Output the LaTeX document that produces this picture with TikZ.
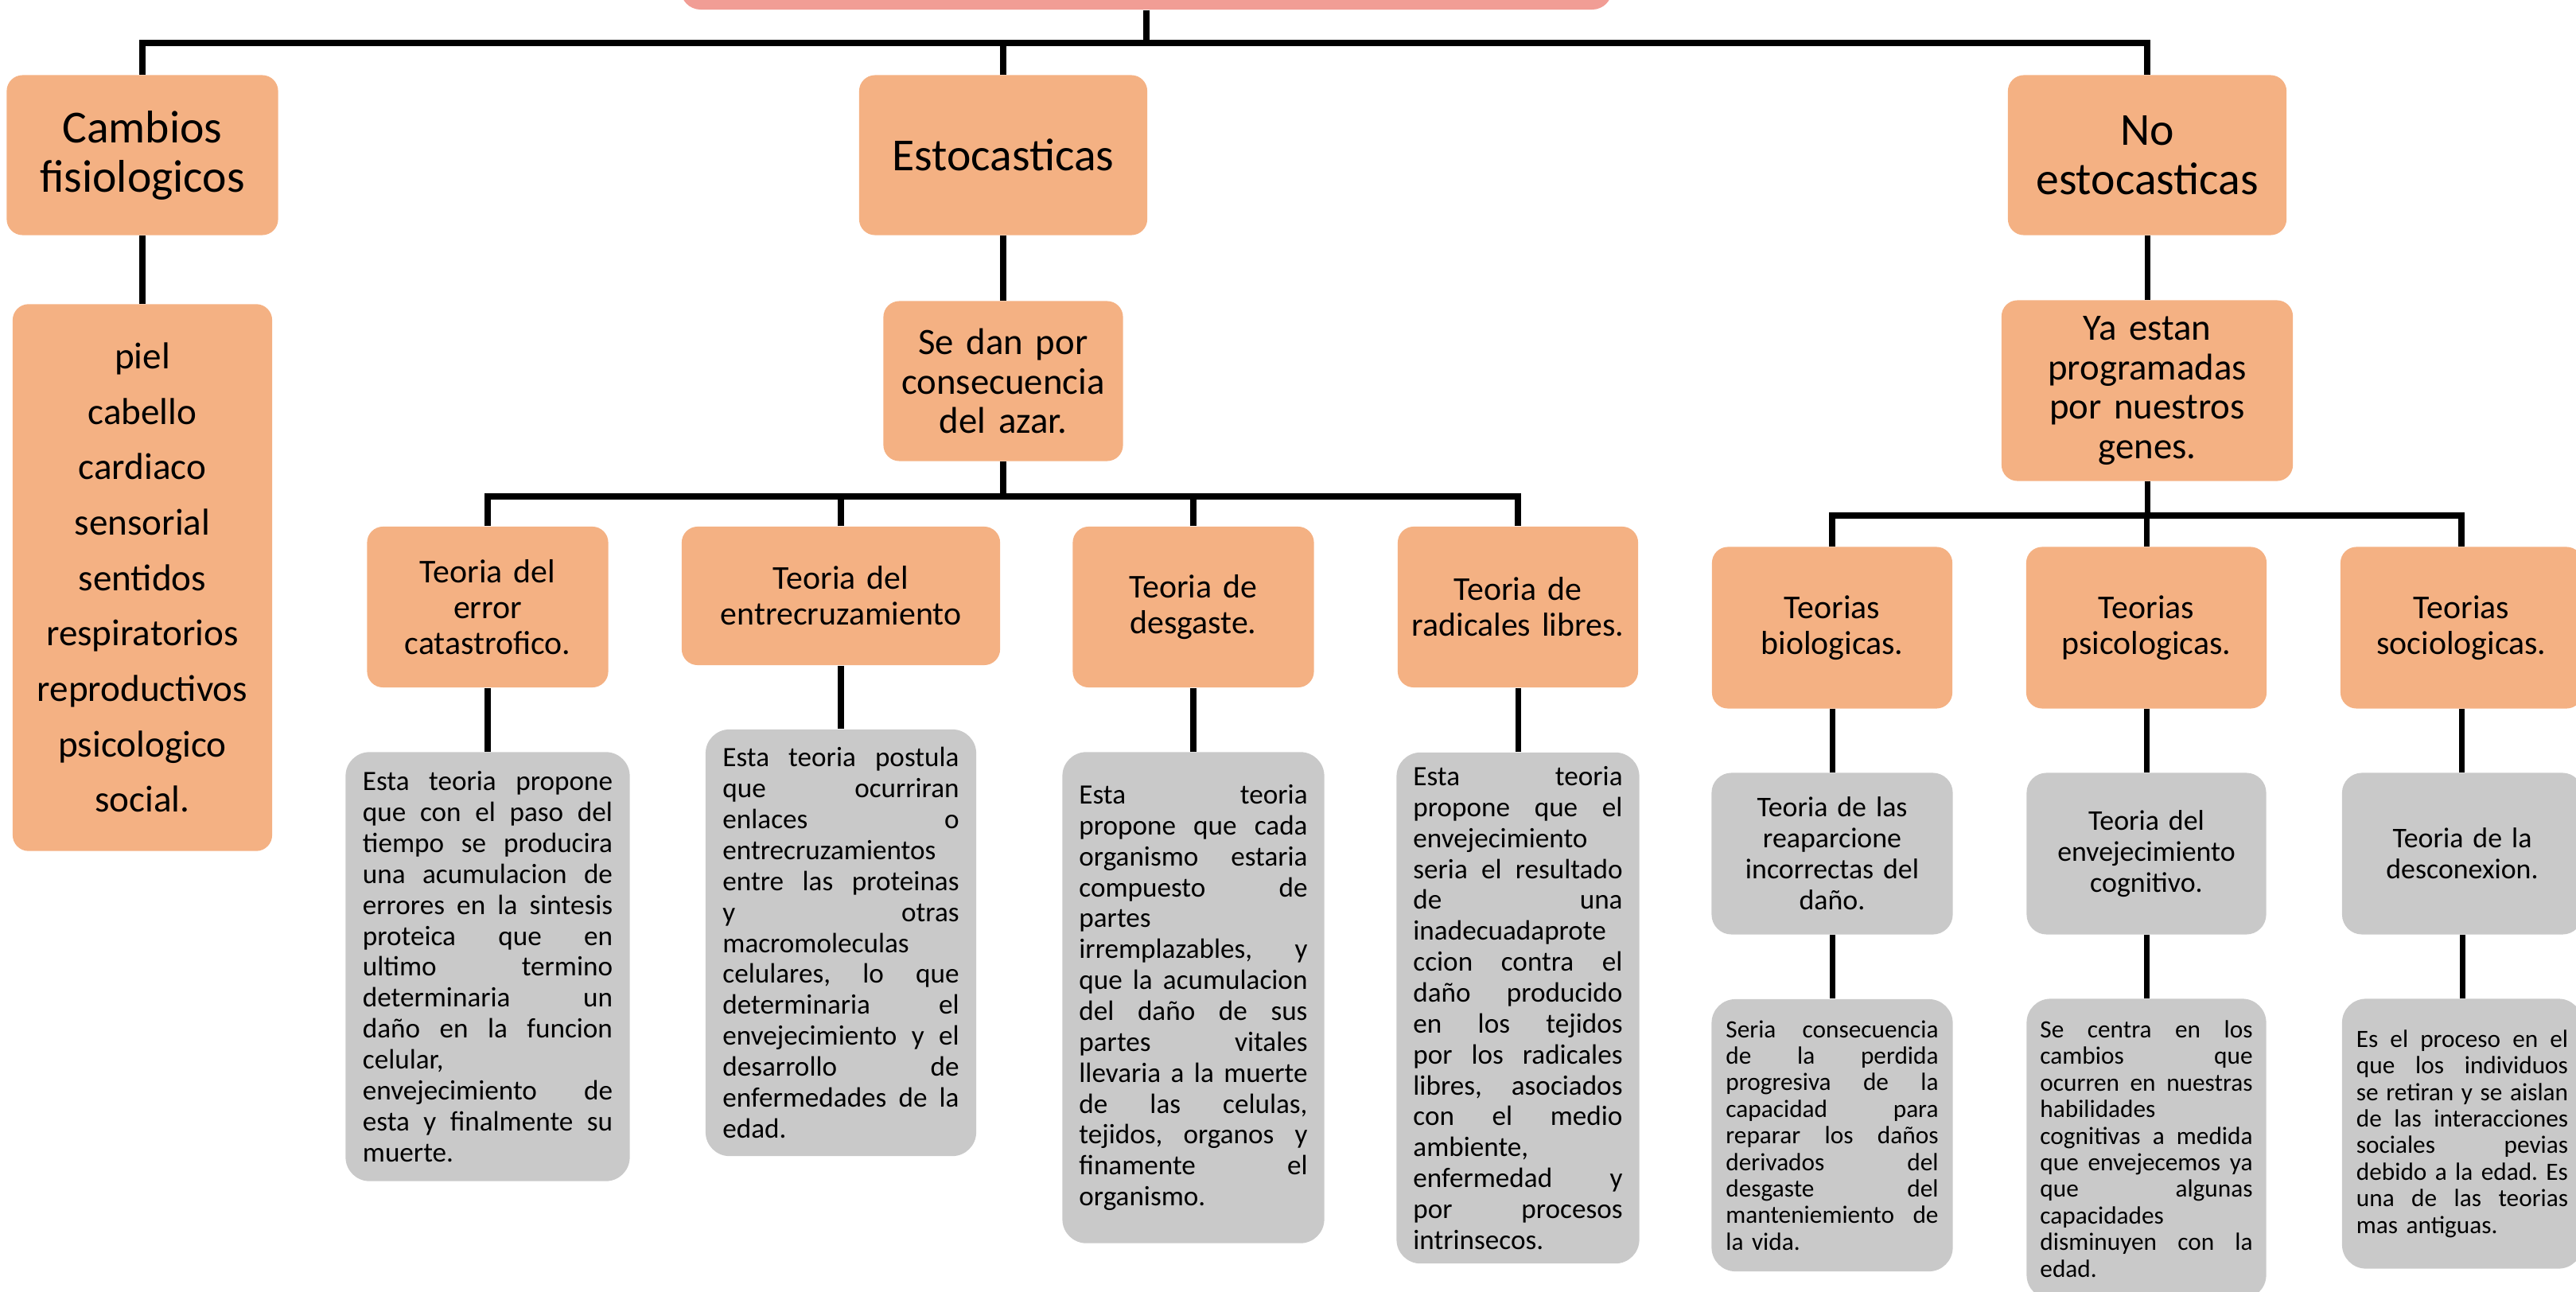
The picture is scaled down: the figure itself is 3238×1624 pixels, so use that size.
\documentclass[tikz,border=0pt]{standalone}
\usepackage{fontspec}
\setmainfont{Carlito}
\usepackage{tikz}
\usetikzlibrary{positioning}

\definecolor{pinkbox}{HTML}{F19D95}
\definecolor{orangebox}{HTML}{F4B183}
\definecolor{greybox}{HTML}{C9C9C9}

% one justified line of a grey box
\newlength{\boxtw}
\newcommand{\fillline}[1]{\leavevmode\hbox to \boxtw{\spaceskip=0.25em plus 1fil\relax #1}\\}
\frenchspacing

\begin{document}
\begin{tikzpicture}[x=0.01cm, y=-0.01cm,
  hdrbox/.style={fill=orangebox, rounded corners=0.2cm, inner sep=0pt, align=center},
  lvlone/.style={hdrbox, font=\fontsize{16.4}{17.6}\selectfont},
  lvltwo/.style={hdrbox, font=\fontsize{13.3}{14.2}\selectfont},
  theory/.style={hdrbox, font=\fontsize{11.9}{12.8}\selectfont},
  greytitle/.style={fill=greybox, rounded corners=0.25cm, inner sep=0pt, align=center,
    font=\fontsize{10.2}{11.1}\selectfont},
  greytext/.style={fill=greybox, rounded corners=0.3cm, inner sep=0pt, align=left,
    font=\fontsize{10}{11.05}\selectfont},
  greynote/.style={greytext, font=\fontsize{8.9}{9.5}\selectfont},
  jwidth/.style={text width=#1, execute at begin node={\setlength{\boxtw}{#1}}},
  busline/.style={line width=2.4pt},
  stemline/.style={line width=2pt}]
  \useasboundingbox (0,0) rectangle (3238,1624);
  \clip (0,0) rectangle (3238,1624);

  \node[fill=pinkbox, rounded corners=0.25cm, minimum width=11.70cm, minimum height=1.04cm] (top) at (1441,-40) {};

  % first level
  \node[lvlone, minimum width=3.41cm, minimum height=2.01cm, text width=3.3cm] (cambios) at (179,195) {Cambios\\fisiologicos};
  \node[lvlone, minimum width=3.62cm, minimum height=2.01cm, text width=3.5cm] (estoc) at (1261,195) {Estocasticas};
  \node[lvlone, minimum width=3.50cm, minimum height=2.01cm, text width=3.4cm] (noest) at (2699,195) {No\\estocasticas};

  \node[lvltwo, minimum width=3.26cm, minimum height=6.87cm, text width=3.1cm,
        font=\fontsize{13.4}{19.8}\selectfont] (piel) at (179,726) {piel\\cabello\\cardiaco\\sensorial\\sentidos\\respiratorios\\reproductivos\\psicologico\\social.};
  \node[lvltwo, minimum width=3.01cm, minimum height=2.01cm, text width=2.9cm] (azar) at (1261,479) {Se dan por\\consecuencia\\del azar.};
  \node[lvltwo, minimum width=3.66cm, minimum height=2.27cm, text width=3.5cm] (genes) at (2699,491) {Ya estan\\programadas\\por nuestros\\genes.};

  % estocasticas
  \node[theory, minimum width=3.03cm, minimum height=2.02cm, text width=2.9cm] (error) at (613,763) {Teoria del\\error\\catastrofico.};
  \node[theory, minimum width=4.00cm, minimum height=1.74cm, text width=3.9cm] (entre) at (1057,749) {Teoria del\\entrecruzamiento};
  \node[theory, minimum width=3.03cm, minimum height=2.02cm, text width=2.9cm] (desg) at (1500,763) {Teoria de\\desgaste.};
  \node[theory, minimum width=3.02cm, minimum height=2.02cm, text width=2.9cm] (radic) at (1908,763) {Teoria de\\radicales libres.};

  \node[greytext, minimum width=3.57cm, minimum height=5.39cm, jwidth=3.14cm] (errtxt) at (613,1215) {%
    \fillline{Esta teoria propone}\fillline{que con el paso del}\fillline{tiempo se producira}%
    \fillline{una acumulacion de}\fillline{errores en la sintesis}\fillline{proteica que en}%
    \fillline{ultimo termino}\fillline{determinaria un}\fillline{daño en la funcion}%
    celular,\\\fillline{envejecimiento de}\fillline{esta y finalmente su}muerte.};
  \node[greytext, minimum width=3.40cm, minimum height=5.36cm, jwidth=2.97cm] (entretxt) at (1057,1185) {%
    \fillline{Esta teoria postula}\fillline{que ocurriran}\fillline{enlaces o}%
    entrecruzamientos\\\fillline{entre las proteinas}\fillline{y otras}macromoleculas\\%
    \fillline{celulares, lo que}\fillline{determinaria el}\fillline{envejecimiento y el}%
    \fillline{desarrollo de}\fillline{enfermedades de la}edad.};
  \node[greytext, minimum width=3.29cm, minimum height=6.17cm, jwidth=2.87cm] (desgtxt) at (1500,1254) {%
    \fillline{Esta teoria}\fillline{propone que cada}\fillline{organismo estaria}%
    \fillline{compuesto de}partes\\\fillline{irremplazables, y}\fillline{que la acumulacion}%
    \fillline{del daño de sus}\fillline{partes vitales}\fillline{llevaria a la muerte}%
    \fillline{de las celulas,}\fillline{tejidos, organos y}\fillline{finamente el}organismo.};
  \node[greytext, minimum width=3.05cm, minimum height=6.42cm, jwidth=2.63cm] (radictxt) at (1908,1267) {%
    \fillline{Esta teoria}\fillline{propone que el}envejecimiento\\%
    \fillline{seria el resultado}\fillline{de una}inadecuadaprote\\\fillline{ccion contra el}%
    \fillline{daño producido}\fillline{en los tejidos}\fillline{por los radicales}%
    \fillline{libres, asociados}\fillline{con el medio}ambiente,\\\fillline{enfermedad y}%
    \fillline{por procesos}intrinsecos.};

  % no estocasticas
  \node[theory, minimum width=3.02cm, minimum height=2.03cm, text width=2.9cm] (bio) at (2303,789) {Teorias\\biologicas.};
  \node[theory, minimum width=3.02cm, minimum height=2.03cm, text width=2.9cm] (psi) at (2698,789) {Teorias\\psicologicas.};
  \node[theory, minimum width=3.04cm, minimum height=2.03cm, text width=2.9cm] (soc) at (3094,789) {Teorias\\sociologicas.};

  \node[greytitle, minimum width=3.03cm, minimum height=2.03cm, text width=2.9cm] (biotit) at (2303,1073) {Teoria de las\\reaparcione\\incorrectas del\\daño.};
  \node[greytitle, minimum width=3.01cm, minimum height=2.03cm, text width=2.9cm] (psitit) at (2698,1073) {Teoria del\\envejecimiento\\cognitivo.};
  \node[greytitle, minimum width=3.02cm, minimum height=2.03cm, text width=2.9cm] (soctit) at (3095,1073) {Teoria de la\\desconexion.};

  \node[greynote, minimum width=3.03cm, minimum height=3.42cm, jwidth=2.67cm] (biotxt) at (2303,1427) {%
    \fillline{Seria consecuencia}\fillline{de la perdida}\fillline{progresiva de la}%
    \fillline{capacidad para}\fillline{reparar los daños}\fillline{derivados del}%
    \fillline{desgaste del}\fillline{manteniemiento de}la vida.};
  \node[greynote, minimum width=3.01cm, minimum height=3.77cm, jwidth=2.67cm] (psitxt) at (2698,1444) {%
    \fillline{Se centra en los}\fillline{cambios que}\fillline{ocurren en nuestras}%
    habilidades\\\fillline{cognitivas a medida}\fillline{que envejecemos ya}%
    \fillline{que algunas}capacidades\\\fillline{disminuyen con la}edad.};
  \node[greynote, minimum width=3.02cm, minimum height=3.39cm, jwidth=2.66cm] (soctxt) at (3095,1425) {%
    \fillline{Es el proceso en el}\fillline{que los individuos}\fillline{se retiran y se aislan}%
    \fillline{de las interacciones}\fillline{sociales pevias}\fillline{debido a la edad. Es}%
    \fillline{una de las teorias}mas antiguas.};

  % connectors
  \coordinate (busa) at (0,54);
  \coordinate (busb) at (0,624);
  \coordinate (busc) at (0,648);
  \draw[busline] (top.south) -- (top.south |- busa);
  \draw[busline] (cambios.north) |- (noest.north |- busa) -- (noest.north);
  \draw[busline] (estoc.north) -- (estoc.north |- busa);
  \draw[stemline] (cambios.south) -- (cambios.south |- piel.north);
  \draw[stemline] (estoc.south) -- (estoc.south |- azar.north);
  \draw[stemline] (noest.south) -- (noest.south |- genes.north);

  \draw[stemline] (azar.south) -- (azar.south |- busb);
  \draw[busline] (error.north) |- (radic.north |- busb) -- (radic.north);
  \draw[stemline] (entre.north) -- (entre.north |- busb);
  \draw[stemline] (desg.north) -- (desg.north |- busb);
  \draw[stemline] (error.south) -- (error.south |- errtxt.north);
  \draw[stemline] (entre.south) -- (entre.south |- entretxt.north);
  \draw[stemline] (desg.south) -- (desg.south |- desgtxt.north);
  \draw[stemline] (radic.south) -- (radic.south |- radictxt.north);

  \draw[stemline] (genes.south) -- (genes.south |- busc);
  \draw[busline] (bio.north) |- (soc.north |- busc) -- (soc.north);
  \draw[stemline] (psi.north) -- (psi.north |- busc);
  \draw[stemline] (bio.south) -- (bio.south |- biotit.north);
  \draw[stemline] (psi.south) -- (psi.south |- psitit.north);
  \draw[stemline] (soc.south) -- (soc.south |- soctit.north);
  \draw[stemline] (biotit.south) -- (biotit.south |- biotxt.north);
  \draw[stemline] (psitit.south) -- (psitit.south |- psitxt.north);
  \draw[stemline] (soctit.south) -- (soctit.south |- soctxt.north);
\end{tikzpicture}
\end{document}
